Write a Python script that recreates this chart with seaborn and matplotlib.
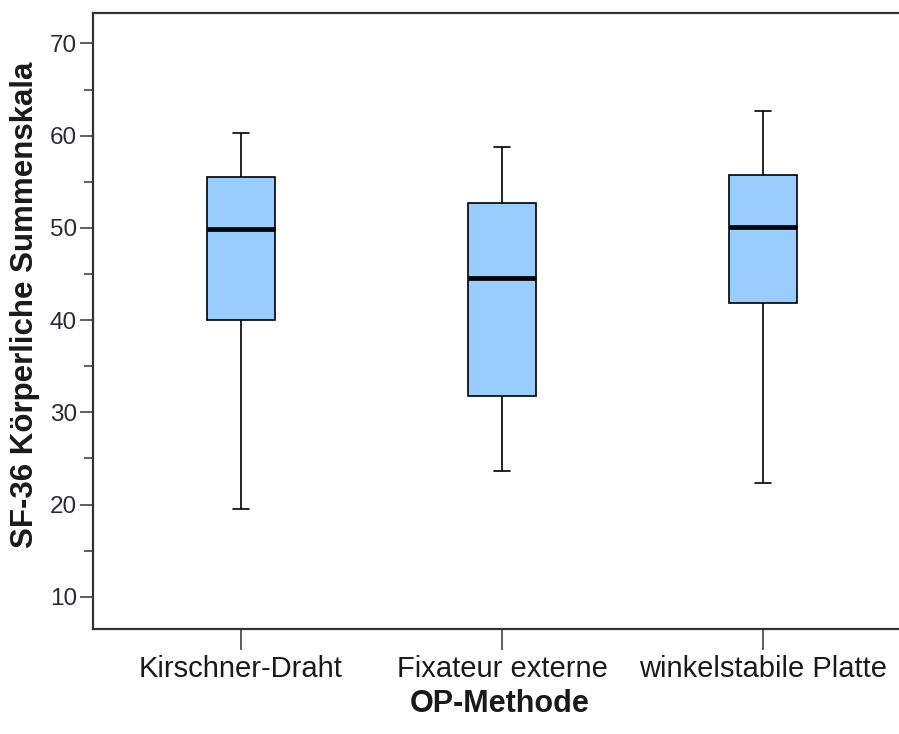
import numpy as np
import pandas as pd
import seaborn as sns
import matplotlib.pyplot as plt
from matplotlib.ticker import MultipleLocator, FixedLocator

categories = ["Kirschner-Draht", "Fixateur externe", "winkelstabile Platte"]
whisker_low = [19.5, 23.6, 22.3]
q1 = [40.0, 31.8, 41.9]
median = [49.9, 44.6, 50.1]
q3 = [55.5, 52.7, 55.7]
whisker_high = [60.3, 58.8, 62.7]
y_ticks = [10, 20, 30, 40, 50, 60, 70]
x_label = "OP-Methode"
y_label = "SF-36 Körperliche Summenskala"

# five-number summaries -> data whose quartiles/extremes reproduce the boxes
rows = []
for c, lo, a, m, b, hi in zip(categories, whisker_low, q1, median, q3, whisker_high):
    for v in (lo, a, m, b, hi):
        rows.append({x_label: c, "value": v})
df = pd.DataFrame(rows)

sns.set_style("ticks")
plt.rcParams["font.family"] = ["Liberation Sans", "DejaVu Sans"]

fig = plt.figure(figsize=(8.99, 7.34), dpi=100)
ax = fig.add_axes([93 / 899, 105 / 734, 806 / 899, 616 / 734])

sns.boxplot(data=df, x=x_label, y="value", order=categories, color="#99CCFF",
            saturation=1, width=0.257, whis=(0, 100), linecolor="black",
            linewidth=1.2, showfliers=False, capwidths=0.065,
            medianprops=dict(linewidth=3.4, color="black"), ax=ax)

ax.set_xlim(-0.567, 2.521)
ax.set_ylim(6.5, 73.3)
ax.yaxis.set_major_locator(FixedLocator(y_ticks))
ax.yaxis.set_minor_locator(MultipleLocator(5))

for s in ["left", "top", "bottom"]:
    ax.spines[s].set_color("#333333")
    ax.spines[s].set_linewidth(1.6)
ax.spines["right"].set_visible(False)

ax.tick_params(axis="y", which="major", length=9.5, width=1.1, color="#333333",
               labelsize=17.5, labelcolor="#2a2a3a", pad=2)
ax.tick_params(axis="y", which="minor", length=6.5, width=1.1, color="#333333")
ax.tick_params(axis="x", which="major", length=15, width=1.1, color="#333333",
               labelsize=21, labelcolor="#1a1a1a", pad=4)

ax.set_xlabel(x_label, fontsize=22, fontweight="bold", color="#1a1a1a")
ax.set_ylabel(y_label, fontsize=22.5, fontweight="bold", color="#1a1a1a")
ax.xaxis.set_label_coords(0.504, -0.097)
ax.yaxis.set_label_coords(-0.066, 0.526)

fig.savefig("out.png", dpi=100)
